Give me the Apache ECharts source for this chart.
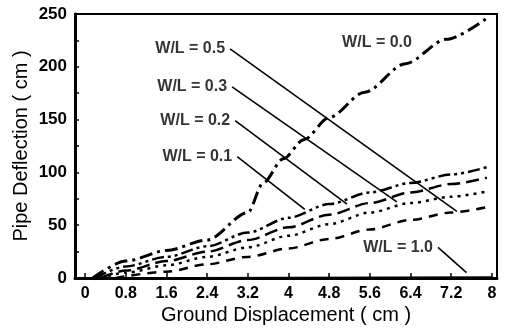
<!DOCTYPE html>
<html>
<head>
<meta charset="utf-8">
<script src="https://cdn.jsdelivr.net/npm/echarts@6/dist/echarts.min.js"></script>
<style>
  html, body { margin: 0; padding: 0; background: #fff; }
  #chart { width: 508px; height: 329px; }
</style>
</head>
<body>
<div id="chart"></div>
<script>
// ground displacement (cm) vs pipe deflection (cm), one list per W/L ratio
var wl00 = [[0.15, 0], [0.8, 16], [1.6, 26], [2.4, 36], [3.2, 62], [3.5, 90], [3.9, 113], [4.3, 131], [4.8, 152], [5.5, 176], [6.3, 203], [7.1, 226], [7.9, 246]];
var wl01 = [[0.2, 0], [0.8, 11], [1.6, 20], [2.4, 30], [3.2, 43], [4.0, 57], [4.8, 70], [5.6, 81], [6.4, 90], [7.2, 98], [7.9, 105]];
var wl02 = [[0.3, 0], [0.8, 7], [1.6, 16], [2.4, 25], [3.2, 36], [4.0, 48], [4.8, 60], [5.6, 71], [6.4, 81], [7.2, 89], [7.9, 95]];
var wl03 = [[0.3, 0], [0.8, 5], [1.6, 12], [2.4, 20], [3.2, 29], [4.0, 40], [4.8, 51], [5.6, 62], [6.4, 71], [7.2, 77], [7.9, 82]];
var wl05 = [[0.6, 0], [1.6, 6], [2.4, 13], [3.2, 20], [4.0, 28], [4.8, 37], [5.6, 46], [6.4, 55], [7.2, 62], [7.9, 67]];
var wl10 = [[0.1, 0], [8.0, 1]];

var xTicks = [0, 0.8, 1.6, 2.4, 3.2, 4, 4.8, 5.6, 6.4, 7.2, 8];
var yLabels = [0, 50, 100, 150, 200, 250];
var yTicks = [0, 25, 50, 75, 100, 125, 150, 175, 200, 225, 250];

// labels: text, anchor point (data coords), where the leader ends
var labelNames = ['W/L = 0.5', 'W/L = 0.3', 'W/L = 0.2', 'W/L = 0.1', 'W/L = 1.0', 'W/L = 0.0'];
var labelAnchors = [[2.85, 217], [2.89, 181], [2.95, 149], [2.99, 115], [6.94, 29], [5.74, 223]];
var leaderEnds = [[7.31, 63], [6.13, 72], [5.15, 70], [4.32, 65], [7.5, 5], null];

var chart = echarts.init(document.getElementById('chart'), null, { renderer: 'canvas' });

var font = 'Liberation Sans, Arial, Helvetica, sans-serif';

function curve(data, dash, width) {
  return {
    type: 'line',
    data: data,
    showSymbol: false,
    smooth: 0.3,
    smoothMonotone: 'x',
    silent: true,
    lineStyle: { color: '#000', width: width, type: dash, cap: 'butt' },
    z: 3
  };
}

var series = [
  curve(wl00, [13, 5, 3, 5], 3),
  curve(wl01, [12, 4, 3, 4, 3, 4], 2.5),
  curve(wl02, [13, 6], 2.5),
  curve(wl03, [3, 5], 2.5),
  curve(wl05, [9, 7], 2.5),
  curve(wl10, 'solid', 1.5)
];

// leader lines
leaderEnds.forEach(function (end, i) {
  if (!end) return;
  series.push({
    type: 'line',
    data: [labelAnchors[i], end],
    showSymbol: false,
    silent: true,
    lineStyle: { color: '#000', width: 1.6 },
    z: 2
  });
});

// label texts
series.push({
  type: 'scatter',
  symbolSize: 0,
  silent: true,
  data: labelAnchors.map(function (p, i) {
    return {
      value: p,
      name: labelNames[i],
      label: {
        show: true,
        position: leaderEnds[i] ? 'left' : 'inside',
        distance: 5,
        formatter: '{b}',
        color: '#000',
        fontFamily: font,
        fontWeight: 'bold',
        fontSize: 16
      }
    };
  }),
  z: 4
});

var option = {
  animation: false,
  backgroundColor: '#fff',
  grid: {
    left: 75, right: 11, top: 14, bottom: 51,
    outerBoundsMode: 'none',
    containLabel: false,
    show: true, borderColor: '#000', borderWidth: 2
  },
  xAxis: {
    type: 'value',
    min: -0.2,
    max: 8.1,
    name: 'Ground Displacement ( cm )',
    nameLocation: 'middle',
    nameGap: 27,
    nameMoveOverlap: false,
    nameTextStyle: { color: '#000', fontFamily: font, fontSize: 20 },
    axisLine: { show: true, onZero: false, lineStyle: { color: '#000', width: 3 } },
    axisTick: { show: true, inside: true, length: 5, customValues: xTicks, lineStyle: { color: '#000', width: 1.5 } },
    axisLabel: {
      customValues: xTicks, color: '#000', fontFamily: font, fontSize: 16, fontWeight: 'bold', margin: 8,
      formatter: function (v) { return String(v); }
    },
    splitLine: { show: false }
  },
  yAxis: {
    type: 'value',
    min: 0,
    max: 250,
    name: 'Pipe Deflection ( cm )',
    nameLocation: 'middle',
    nameGap: 44,
    nameMoveOverlap: false,
    nameTextStyle: { color: '#000', fontFamily: font, fontSize: 20 },
    axisLine: { show: true, onZero: false, lineStyle: { color: '#000', width: 3 } },
    axisTick: { show: true, inside: true, length: 4, customValues: yTicks, lineStyle: { color: '#000', width: 1.5 } },
    axisLabel: { customValues: yLabels, color: '#000', fontFamily: font, fontSize: 17, fontWeight: 'bold', margin: 8 },
    splitLine: { show: false }
  },
  series: series
};

chart.setOption(option);
</script>
</body>
</html>
